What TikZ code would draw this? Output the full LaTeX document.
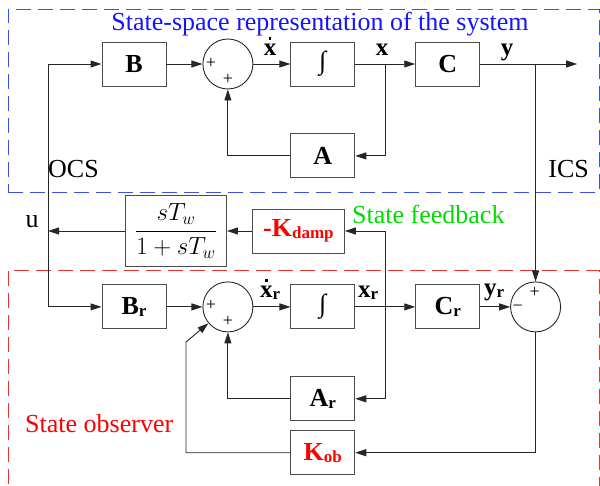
\documentclass[tikz,border=0pt]{standalone}
\usepackage{amsmath}
\usepackage{fontspec}
\setmainfont{Liberation Serif}
\usetikzlibrary{arrows.meta, positioning, fit, backgrounds, calc}

\definecolor{sysblue}{RGB}{60,80,235}
\definecolor{obsred}{RGB}{235,50,50}
\definecolor{fbgreen}{RGB}{0,220,0}
\definecolor{titleblue}{RGB}{20,20,255}

\newcommand{\lowsub}[2]{#1\raisebox{-2pt}{\fontsize{17}{17}\selectfont #2}}
\newcommand{\xdot}{\makebox[0pt][l]{\hspace{0.2em}\raisebox{0.6em}{\rule{2.6pt}{2.6pt}}}x}
\newcommand{\intsign}{{\mdseries\fontsize{26}{26}\selectfont ∫}}

\begin{document}
\begin{tikzpicture}[x=1pt, y=-1pt,
        node distance=36pt,
        % blocks
        blk/.style={
            rectangle,
            draw=black!70,
            line width=0.9pt,
            minimum width=64pt,
            minimum height=44pt,
            inner sep=0pt,
            font=\bfseries\fontsize{26}{28}\selectfont
        },
        % summing junctions
        sumc/.style={circle, draw=black!85, line width=0.9pt, minimum size=50pt, inner sep=0pt},
        sgn/.style={inner sep=0pt, font=\fontsize{18}{18}\selectfont},
        % texts
        lbl/.style={inner sep=0pt, font=\fontsize{26}{28}\selectfont},
        lblb/.style={inner sep=0pt, font=\bfseries\fontsize{25}{27}\selectfont},
        % connectors
        arrow/.style={-{Triangle[length=11pt, width=7pt]}, line width=0.9pt, draw=black!85},
        % dashed groups
        grp/.style={rectangle, draw=#1, dash pattern=on 15pt off 7pt, line width=0.9pt, inner sep=0pt}
    ]

    \useasboundingbox (0,0) rectangle (600,485);

    % ================= system =================
    \node[blk] (B) at (134,64) {B};
    \node[sumc, right=36pt of B] (s1) {};
    \node[blk, right=37pt of s1] (int) {\intsign};
    \node[blk, right=60pt of int] (C) {C};
    \node[blk, below=47pt of int] (A) {A};
    \coordinate[right=97pt of C] (yout);
    \coordinate (xb) at ($(int.east)!0.5!(C.west)$);

    % ================= observer =================
    \node[blk, below=198pt of B] (Br) {\lowsub{B}{r}};
    \node[sumc, right=36pt of Br] (s2) {};
    \node[blk, right=37pt of s2] (intr) {\intsign};
    \node[blk, right=60pt of intr] (Cr) {\lowsub{C}{r}};
    \node[sumc, right=30pt of Cr] (s3) {};
    \node[blk, below=47pt of intr] (Ar) {\lowsub{A}{r}};
    \node[blk, below=9pt of Ar, text=red] (Kob) {\lowsub{K}{ob}};
    \coordinate (yb) at (s3 |- C);
    \coordinate (xrb) at ($(intr.east)!0.5!(Cr.west)$);
    \coordinate (kc) at (186,342);

    % ================= state feedback =================
    \node[blk, minimum width=101pt, minimum height=71pt, font=\fontsize{23}{26}\selectfont]
        (Tw) at (176,231) {$\dfrac{sT_w}{1+sT_w}$};
    \node[blk, minimum width=92pt, right=25pt of Tw, text=red] (Kd) {-\lowsub{K}{damp}};
    \coordinate (uj) at (48,231);

    % ================= signs =================
    \node[sgn] (s1a) at ($(s1.center)+(-17,-1)$) {+};
    \node[sgn] (s1b) at ($(s1.center)+(0,15)$) {+};
    \node[sgn] (s2a) at ($(s2.center)+(-17,-1)$) {+};
    \node[sgn] (s2b) at ($(s2.center)+(0,15)$) {+};
    \node[sgn] (s3a) at ($(s3.center)+(-1,-14)$) {+};
    \node[sgn] (s3b) at ($(s3.center)+(-18,1)$) {−};

    % ================= labels =================
    \node[lbl, text=titleblue, anchor=base] (title) at (320,30) {State-space representation of the system};
    \node[lbl, anchor=base west] (ocs) at (48,177) {OCS};
    \node[lbl, anchor=base east] (ics) at (589,177) {ICS};
    \node[lbl, anchor=base] (ulbl) at (32,227) {u};
    \node[lbl, text=fbgreen, anchor=base west] (fblbl) at (352,223) {State feedback};
    \node[lbl, text=red, anchor=base west] (oblbl) at (25,432) {State observer};
    \node[lblb, anchor=base] (xdlbl) at (270,55) {\xdot};
    \node[lblb, anchor=base] (xlbl) at (382,55) {x};
    \node[lblb, anchor=base] (ylbl) at (507,55) {y};
    \node[lblb, anchor=base west] (xdrlbl) at (260,297) {\lowsub{\xdot}{r}};
    \node[lblb, anchor=base west] (xrlbl) at (358,297) {\lowsub{x}{r}};
    \node[lblb, anchor=base west] (yrlbl) at (484,295) {\lowsub{y}{r}};

    % ================= arrows =================
    \draw[arrow] (B) -- (s1);
    \draw[arrow] (s1) -- (int);
    \draw[arrow] (int) -- (C);
    \draw[arrow] (C) -- (yout);
    \draw[arrow] (xb) |- (A);
    \draw[arrow] (A) -| (s1);
    \draw[arrow] (yb) -- (s3);

    \draw[arrow] (Kd) -- (Tw);
    \draw[arrow] (Tw) -- (uj);
    \draw[arrow] (uj) |- (B);
    \draw[arrow] (uj) |- (Br);
    \draw[arrow] (xrb) |- (Kd);

    \draw[arrow] (Br) -- (s2);
    \draw[arrow] (s2) -- (intr);
    \draw[arrow] (intr) -- (Cr);
    \draw[arrow] (Cr) -- (s3);
    \draw[arrow] (xrb) |- (Ar);
    \draw[arrow] (Ar) -| (s2);
    \draw[arrow] (s3) |- (Kob);
    \draw[arrow] (Kob) -| (kc) -- (s2);

    % ================= dashed groups =================
    \begin{scope}[on background layer]
        \node[grp=sysblue, fit={(8,9) (599,192)}] (sysbox) {};
        \node[grp=obsred, fit={(8,270) (599,495)}] (obsbox) {};
    \end{scope}

\end{tikzpicture}
\end{document}
